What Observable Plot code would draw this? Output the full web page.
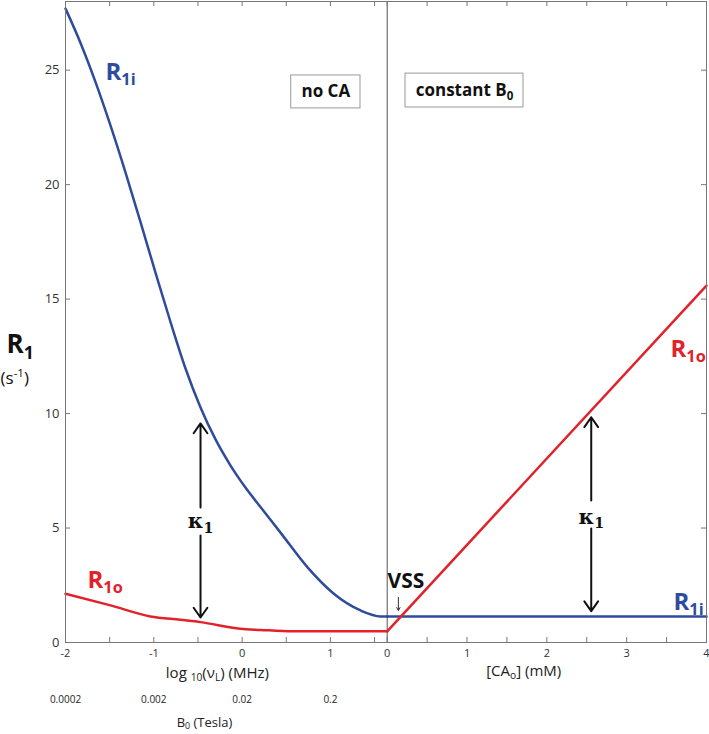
<!DOCTYPE html>
<html><head><meta charset="utf-8">
<script src="https://cdn.jsdelivr.net/npm/d3@7"></script>
<script src="https://cdn.jsdelivr.net/npm/@observablehq/plot@0.6"></script>
<style>body{margin:0;background:#fff}</style>
</head><body><div id="chart"></div>
<script>
// ---------- data ----------
// left panel ("no CA"): R1 vs log10(nu_L) in MHz
const logNuI   = [-2, -1.830, -1.660, -1.490, -1.320, -1.151, -0.981, -0.811, -0.641, -0.471, -0.301, -0.131, 0.038, 0.208, 0.435, 0.741, 1.035, 1.341, 1.567, 1.643];
const r1iNoCA  = [27.69, 26.19, 24.48, 22.58, 20.53, 18.37, 16.16, 14.0, 11.97, 10.27, 8.87, 7.73, 6.77, 5.92, 4.80, 3.28, 2.14, 1.40, 1.14, 1.14];
const logNuO   = [-2, -1.49, -1.04, -0.70, -0.47, -0.02, 0.21, 0.58, 1.643];
const r1oNoCA  = [2.13, 1.62, 1.14, 0.99, 0.89, 0.60, 0.55, 0.49, 0.49];
// right panel ("constant B0"): R1 vs [CAo] in mM
const caConc   = [0, 4];
const r1oCA    = [0.49, 15.59];
const r1iCA    = [1.14, 1.14];
// axis ticks and labels
const logTicks = [-2, -1.5, -1, -0.5, 0, 0.5, 1, 1.5];
const logLabeled = [-2, -1, 0, 1];
const logLabels  = ["-2", "-1", "0", "1"];
const caTicks  = [0, 0.5, 1, 1.5, 2, 2.5, 3, 3.5, 4];
const caLabeled = [0, 1, 2, 3, 4];
const caLabels  = ["0", "1", "2", "3", "4"];
const b0At     = [-2, -1, 0, 1];
const b0Labels = ["0.0002", "0.002", "0.02", "0.2"];
const yTicks   = [0, 5, 10, 15, 20, 25];
// kappa arrows
const kappaLeft  = {log: -0.471, gapLo: 4.67, gapHi: 5.90, lo: 1.09, hi: 9.57, mid: 5.29};
const kappaRight = {ca: 2.556, gapLo: 4.98, gapHi: 6.20, lo: 1.37, hi: 9.84, mid: 5.48};

// ---------- layout ----------
const W = 709, H = 734, ML = 65, MR = 3, MT = 1, MB = 92;
const LOG_MIN = -2, LOG_MAX = 1.643, CA_MAX = 4, Y_MAX = 28;
const LEFT_W = 321.7, RIGHT_W = W - ML - MR - LEFT_W;
const uL = v => (v - LOG_MIN) / (LOG_MAX - LOG_MIN) * LEFT_W;
const uR = c => LEFT_W + c / CA_MAX * RIGHT_W;
const U_MAX = LEFT_W + RIGHT_W;
const PX_Y = (H - MB - MT) / Y_MAX;
const tickLenY = 5 / PX_Y, tickLenX = 5;

const BLUE = "#2f4c9c", RED = "#e2222a";

const lines = [
  ...logNuI.map((v, i) => ({u: uL(v), r: r1iNoCA[i], s: "iL"})),
  ...caConc.map((c, i) => ({u: uR(c), r: r1iCA[i], s: "iR"})),
  ...logNuO.map((v, i) => ({u: uL(v), r: r1oNoCA[i], s: "oL"})),
  ...caConc.map((c, i) => ({u: uR(c), r: r1oCA[i], s: "oR"}))
];
const xTickU = [...logTicks.map(uL), ...caTicks.map(uR)];
const labelMap = new Map([
  ...logLabeled.map((v, i) => [uL(v), logLabels[i]]),
  ...caLabeled.map((c, i) => [uR(c), caLabels[i]])
]);
const arrows = [
  {x: uL(kappaLeft.log), y1: kappaLeft.gapHi, y2: kappaLeft.hi},
  {x: uL(kappaLeft.log), y1: kappaLeft.gapLo, y2: kappaLeft.lo},
  {x: uR(kappaRight.ca), y1: kappaRight.gapHi, y2: kappaRight.hi},
  {x: uR(kappaRight.ca), y1: kappaRight.gapLo, y2: kappaRight.lo}
];
const boxes = [
  {x1: 225.7, x2: 295, y1: 23.33, y2: 24.77, t: "no CA"},
  {x1: 340, x2: 458, y1: 23.37, y2: 24.85, t: "constant B_{0}"}
];
const seriesLabels = [
  {u: 40,  r: 24.92, t: "R_{1i}", c: BLUE},
  {u: 22,  r: 2.71,  t: "R_{1o}", c: RED},
  {u: 605, r: 12.82, t: "R_{1o}", c: RED},
  {u: 608, r: 1.77,  t: "R_{1i}", c: BLUE}
];

const chart = Plot.plot({
  width: W, height: H,
  marginLeft: ML, marginRight: MR, marginTop: MT, marginBottom: MB,
  style: {fontFamily: "'Open Sans', sans-serif", fontSize: "11px", color: "#333", background: "#fff"},
  x: {domain: [0, U_MAX], axis: null},
  y: {domain: [0, Y_MAX], axis: null},
  marks: [
    Plot.rect(boxes, {x1: "x1", x2: "x2", y1: "y1", y2: "y2", fill: "white", stroke: "#999", strokeWidth: 1}),
    Plot.text(boxes, {x: d => (d.x1 + d.x2) / 2, y: d => (d.y1 + d.y2) / 2, text: "t", fontSize: 17, fontWeight: "bold", fill: "#111"}),
    Plot.ruleX([uR(0)], {stroke: "#555", strokeWidth: 1}),
    Plot.line(lines.filter(d => d.s === "iL"), {x: "u", y: "r", stroke: BLUE, strokeWidth: 2.5, curve: "monotone-x"}),
    Plot.line(lines.filter(d => d.s === "oL"), {x: "u", y: "r", stroke: RED, strokeWidth: 2.5, curve: "monotone-x"}),
    Plot.line(lines.filter(d => d.s === "iR"), {x: "u", y: "r", stroke: BLUE, strokeWidth: 2.5}),
    Plot.line(lines.filter(d => d.s === "oR"), {x: "u", y: "r", stroke: RED, strokeWidth: 2.5}),
    Plot.arrow(arrows, {x1: "x", x2: "x", y1: "y1", y2: "y2", stroke: "#111", strokeWidth: 2, headLength: 9, headAngle: 70}),
    Plot.text([{x: uL(kappaLeft.log), y: kappaLeft.mid}, {x: uR(kappaRight.ca), y: kappaRight.mid}],
      {x: "x", y: "y", text: () => "κ_{1}", fontFamily: "'DejaVu Serif', serif", fontWeight: "bold", fontSize: 21, fill: "#111"}),
    Plot.text([{u: 322, r: 2.69}], {x: "u", y: "r", text: () => "VSS", textAnchor: "start", fontSize: 21, fontWeight: "bold", fill: "#111"}),
    Plot.arrow([{u: uR(0.14), r1: 1.97, r2: 1.40}], {x1: "u", x2: "u", y1: "r1", y2: "r2", stroke: "#333", strokeWidth: 1, headLength: 5, headAngle: 60}),
    Plot.text(seriesLabels, {x: "u", y: "r", text: "t", fill: "c", textAnchor: "start", fontSize: 24, fontWeight: "bold"}),
    Plot.frame({stroke: "#777", strokeWidth: 1}),
    Plot.ruleX(xTickU, {x: d => d, y1: 0, y2: tickLenY, stroke: "#777"}),
    Plot.ruleX(xTickU, {x: d => d, y1: Y_MAX, y2: Y_MAX - tickLenY, stroke: "#777"}),
    Plot.ruleY(yTicks, {y: d => d, x1: 0, x2: tickLenX, stroke: "#777"}),
    Plot.ruleY(yTicks, {y: d => d, x1: U_MAX, x2: U_MAX - tickLenX, stroke: "#777"}),
    Plot.axisX({ticks: [...labelMap.keys()], tickFormat: d => labelMap.get(d), tickSize: 0, tickPadding: 7, fontSize: 11, label: null}),
    Plot.axisY({ticks: yTicks, tickSize: 0, tickPadding: 6, fontSize: 13, label: null}),
    Plot.text([{u: uL(-0.28)}], {x: "u", frameAnchor: "bottom", dy: 35, text: () => "log _{10}(ν_{L}) (MHz)", fontSize: 15, fill: "#222"}),
    Plot.text([{u: uR(1.71)}], {x: "u", frameAnchor: "bottom", dy: 33, text: () => "[CA_{o}] (mM)", fontSize: 15, fill: "#222"}),
    Plot.text(b0At.map((v, i) => ({u: uL(v), t: b0Labels[i]})), {x: "u", frameAnchor: "bottom", dy: 60, text: "t", fontSize: 10, fill: "#222"}),
    Plot.text([{u: uL(-0.426)}], {x: "u", frameAnchor: "bottom", dy: 84, text: () => "B_{0} (Tesla)", fontSize: 13, fill: "#222"}),
    Plot.text([{r: 13.0}], {y: "r", frameAnchor: "left", dx: -59, textAnchor: "start", text: () => "R_{1}", fontSize: 26, fontWeight: "bold", fill: "#111"}),
    Plot.text([{r: 11.55}], {y: "r", frameAnchor: "left", dx: -65, textAnchor: "start", text: () => "(s^{-1})", fontSize: 17, fill: "#111"})
  ]
});
document.getElementById("chart").appendChild(chart);

// rich text: _{sub} and ^{sup}
(function richify(root) {
  const ns = "http://www.w3.org/2000/svg";
  root.querySelectorAll("text").forEach(t => {
    const s = t.textContent;
    if (!/[_^]\{/.test(s)) return;
    const fs = parseFloat(getComputedStyle(t).fontSize) || 12;
    while (t.firstChild) t.removeChild(t.firstChild);
    let cur = 0, last = 0, m;
    const re = /([_^])\{([^}]*)\}/g;
    const add = (txt, size, target) => {
      const ts = document.createElementNS(ns, "tspan");
      if (size) ts.setAttribute("font-size", size);
      const dy = target - cur;
      if (dy) ts.setAttribute("dy", dy);
      cur = target;
      ts.textContent = txt;
      t.appendChild(ts);
    };
    while ((m = re.exec(s))) {
      if (m.index > last) add(s.slice(last, m.index), null, 0);
      if (m[1] === "_") add(m[2], fs * 0.68, fs * 0.22);
      else add(m[2], fs * 0.68, -fs * 0.38);
      last = re.lastIndex;
    }
    if (last < s.length) add(s.slice(last), null, 0);
  });
})(chart);
</script>
</body></html>
